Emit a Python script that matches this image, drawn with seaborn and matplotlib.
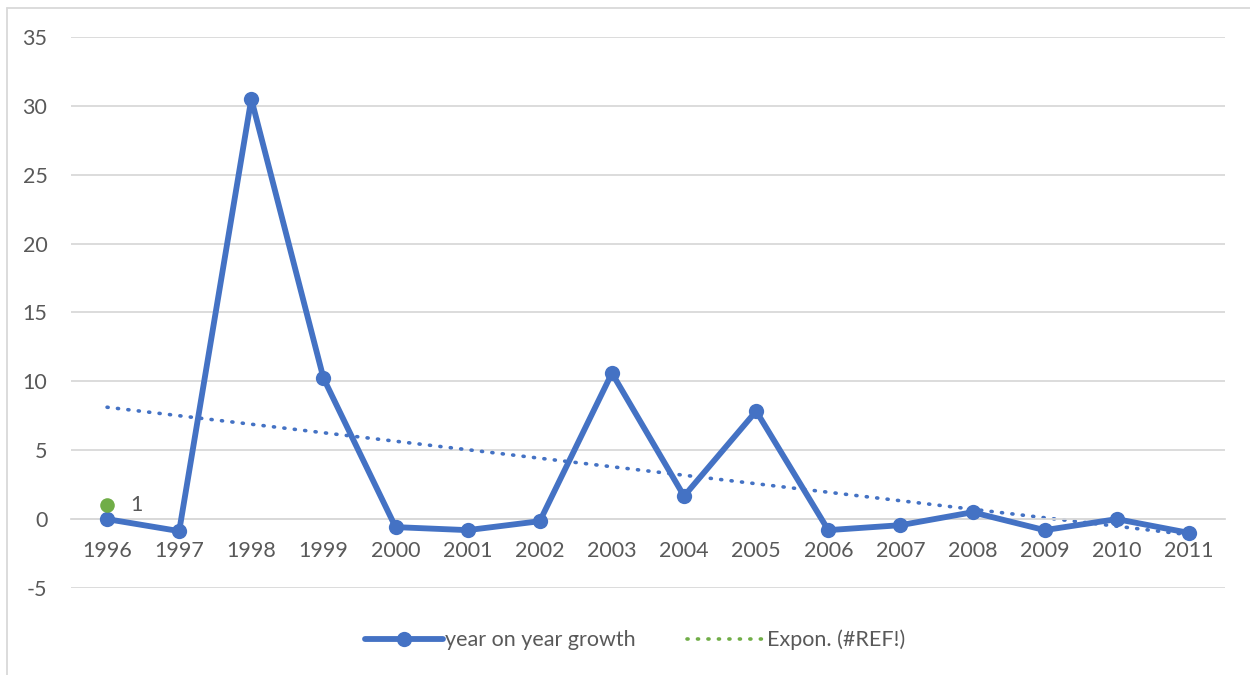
import matplotlib.pyplot as plt
import numpy as np
import seaborn as sns
from matplotlib.lines import Line2D

years = [1996, 1997, 1998, 1999, 2000, 2001, 2002, 2003,
         2004, 2005, 2006, 2007, 2008, 2009, 2010, 2011]
growth = [0.0, -0.87, 30.5, 10.24, -0.58, -0.8, -0.15, 10.6,
          1.67, 7.84, -0.8, -0.44, 0.5, -0.8, 0.0, -1.0]
stray_year = [1996]
stray_value = [1]

BLUE = "#4472C4"
GREEN = "#70AD47"
GRID = "#D9D9D9"
TEXT = "#595959"
DOTS = (0, (0.3, 2.6))

sns.set_style("white")
plt.rcParams["font.family"] = ["Lato", "DejaVu Sans"]
plt.rcParams["axes.unicode_minus"] = False

fig = plt.figure(figsize=(12.5, 6.75), dpi=100)
ax = fig.add_axes([0.0568, 0.1289, 0.9232, 0.8163])

# linear trend of the main series (drawn dotted, like the Excel trendline)
sns.regplot(x=years, y=growth, ax=ax, scatter=False, ci=None,
            line_kws=dict(color=BLUE, lw=2.6, linestyle=DOTS,
                          dash_capstyle="round"))

sns.lineplot(x=years, y=growth, ax=ax, color=BLUE, lw=4.2, marker="o",
             markersize=11, markeredgewidth=0, zorder=5)

ax.plot(stray_year, stray_value, "o", color=GREEN, markersize=10.5,
        markeredgewidth=0, zorder=6)
for x, v in zip(stray_year, stray_value):
    ax.annotate(str(v), (x, v), xytext=(17, 0), textcoords="offset points",
                va="center", ha="left", fontsize=15.5, color=TEXT)

ax.set_xlim(years[0] - 0.5, years[-1] + 0.5)
ax.set_ylim(-5, 35)
ax.set_yticks(range(-5, 36, 5))
ax.set_xticks(years)
ax.set_xticklabels([str(y) for y in years])
ax.set_xlabel("")
ax.set_ylabel("")

ax.grid(axis="y", color=GRID, lw=1.3)
ax.set_axisbelow(True)
for side in ["left", "right", "top"]:
    ax.spines[side].set_visible(False)
ax.spines["bottom"].set_position(("data", 0))
ax.spines["bottom"].set_color(GRID)
ax.spines["bottom"].set_linewidth(1.3)
ax.tick_params(axis="both", length=0, labelsize=15.5, colors=TEXT)
ax.tick_params(axis="y", pad=17)
ax.tick_params(axis="x", pad=16)

handles = [
    Line2D([], [], color=BLUE, lw=4.2, marker="o", markersize=11,
           markeredgewidth=0),
    Line2D([], [], color=GREEN, lw=2.6, linestyle=DOTS,
           dash_capstyle="round"),
]
fig.legend(handles, ["year on year growth", "Expon. (#REF!)"], loc="center",
           bbox_to_anchor=(0.508, 0.052), ncol=2, frameon=False,
           fontsize=15.5, labelcolor=TEXT, handlelength=3.6,
           handletextpad=0.1, columnspacing=2.4)

# chart area border (only top and left edges visible in the crop)
fig.add_artist(Line2D([7 / 1250, 7 / 1250], [0, 1 - 8 / 675],
                      transform=fig.transFigure, color=GRID, lw=1.3))
fig.add_artist(Line2D([7 / 1250, 1], [1 - 8 / 675, 1 - 8 / 675],
                      transform=fig.transFigure, color=GRID, lw=1.3))

fig.savefig("out.png", dpi=100)
